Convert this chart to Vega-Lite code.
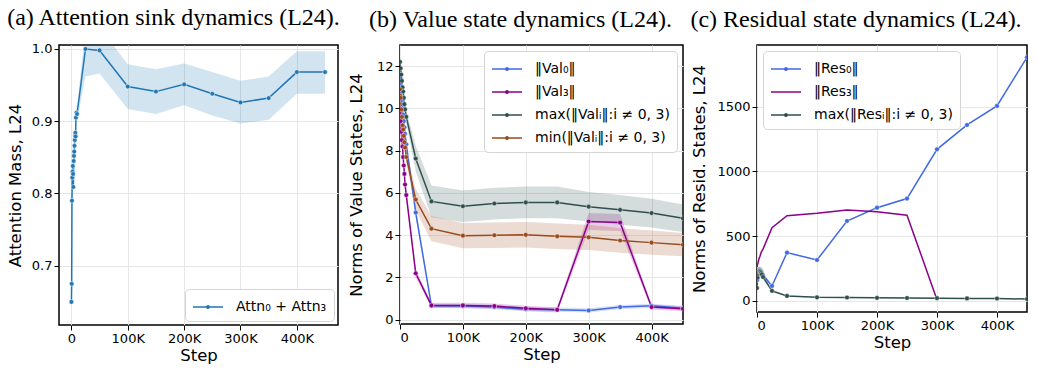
{
  "$schema": "https://vega.github.io/schema/vega-lite/v6.json",
  "background": "white",
  "padding": 5,
  "spacing": 5,
  "config": {
    "view": {"stroke": "black", "strokeWidth": 1.5},
    "axis": {
      "domain": false, "ticks": true, "tickColor": "black", "tickSize": 5, "tickWidth": 1,
      "labelFont": "DejaVu Sans", "labelFontSize": 13, "labelColor": "black", "labelPadding": 2,
      "titleFont": "DejaVu Sans", "titleFontSize": 16.5, "titleFontWeight": "normal", "titleColor": "black",
      "grid": true, "gridColor": "#e6e6e6", "gridWidth": 1
    },
    "title": {"font": "Liberation Serif", "fontSize": 24, "fontWeight": "normal", "color": "black", "anchor": "middle"},
    "legend": {
      "labelFont": "DejaVu Sans", "labelFontSize": 14, "labelColor": "black",
      "fillColor": "white", "strokeColor": "#d5d5d5", "cornerRadius": 4, "padding": 7,
      "symbolSize": 400,
      "symbolType": "M-1,0H2M0.38,0a0.12,0.12 0 1,0 0.24,0a0.12,0.12 0 1,0 -0.24,0",
      "symbolStrokeWidth": 1.5, "labelOffset": 22, "rowPadding": 5, "offset": 6
    }
  },
  "datasets": {
    "a": [
      {"step": 0, "v": 0.650, "lo": 0.640, "hi": 0.660, "s": "Attn₀ + Attn₃"},
      {"step": 500, "v": 0.675, "lo": 0.665, "hi": 0.685, "s": "Attn₀ + Attn₃"},
      {"step": 1000, "v": 0.790, "lo": 0.780, "hi": 0.800, "s": "Attn₀ + Attn₃"},
      {"step": 1500, "v": 0.822, "lo": 0.812, "hi": 0.832, "s": "Attn₀ + Attn₃"},
      {"step": 2000, "v": 0.830, "lo": 0.820, "hi": 0.840, "s": "Attn₀ + Attn₃"},
      {"step": 2500, "v": 0.838, "lo": 0.828, "hi": 0.848, "s": "Attn₀ + Attn₃"},
      {"step": 3000, "v": 0.827, "lo": 0.817, "hi": 0.837, "s": "Attn₀ + Attn₃"},
      {"step": 3500, "v": 0.809, "lo": 0.799, "hi": 0.819, "s": "Attn₀ + Attn₃"},
      {"step": 4000, "v": 0.845, "lo": 0.835, "hi": 0.855, "s": "Attn₀ + Attn₃"},
      {"step": 4500, "v": 0.852, "lo": 0.842, "hi": 0.862, "s": "Attn₀ + Attn₃"},
      {"step": 5000, "v": 0.858, "lo": 0.848, "hi": 0.868, "s": "Attn₀ + Attn₃"},
      {"step": 5500, "v": 0.866, "lo": 0.856, "hi": 0.876, "s": "Attn₀ + Attn₃"},
      {"step": 6000, "v": 0.874, "lo": 0.864, "hi": 0.884, "s": "Attn₀ + Attn₃"},
      {"step": 6500, "v": 0.880, "lo": 0.870, "hi": 0.890, "s": "Attn₀ + Attn₃"},
      {"step": 7000, "v": 0.884, "lo": 0.874, "hi": 0.894, "s": "Attn₀ + Attn₃"},
      {"step": 7500, "v": 0.879, "lo": 0.869, "hi": 0.889, "s": "Attn₀ + Attn₃"},
      {"step": 8000, "v": 0.905, "lo": 0.895, "hi": 0.915, "s": "Attn₀ + Attn₃"},
      {"step": 9000, "v": 0.912, "lo": 0.902, "hi": 0.922, "s": "Attn₀ + Attn₃"},
      {"step": 10000, "v": 0.910, "lo": 0.900, "hi": 0.920, "s": "Attn₀ + Attn₃"},
      {"step": 25000, "v": 1.000, "lo": 0.962, "hi": 1.030, "s": "Attn₀ + Attn₃"},
      {"step": 50000, "v": 0.998, "lo": 0.966, "hi": 1.030, "s": "Attn₀ + Attn₃"},
      {"step": 100000, "v": 0.948, "lo": 0.917, "hi": 0.979, "s": "Attn₀ + Attn₃"},
      {"step": 150000, "v": 0.941, "lo": 0.910, "hi": 0.972, "s": "Attn₀ + Attn₃"},
      {"step": 200000, "v": 0.951, "lo": 0.922, "hi": 0.980, "s": "Attn₀ + Attn₃"},
      {"step": 250000, "v": 0.938, "lo": 0.908, "hi": 0.968, "s": "Attn₀ + Attn₃"},
      {"step": 300000, "v": 0.926, "lo": 0.897, "hi": 0.956, "s": "Attn₀ + Attn₃"},
      {"step": 350000, "v": 0.932, "lo": 0.902, "hi": 0.962, "s": "Attn₀ + Attn₃"},
      {"step": 400000, "v": 0.968, "lo": 0.938, "hi": 0.997, "s": "Attn₀ + Attn₃"},
      {"step": 450000, "v": 0.968, "lo": 0.938, "hi": 0.997, "s": "Attn₀ + Attn₃"}
    ],
    "b": [
      {"step": 0, "v": 11.6, "lo": 11.45, "hi": 11.75, "s": "‖Val₀‖"},
      {"step": 1000, "v": 11.2, "lo": 11.05, "hi": 11.35, "s": "‖Val₀‖"},
      {"step": 2000, "v": 10.8, "lo": 10.65, "hi": 10.95, "s": "‖Val₀‖"},
      {"step": 3000, "v": 10.4, "lo": 10.25, "hi": 10.55, "s": "‖Val₀‖"},
      {"step": 4000, "v": 10.0, "lo": 9.85, "hi": 10.15, "s": "‖Val₀‖"},
      {"step": 5000, "v": 9.7, "lo": 9.55, "hi": 9.85, "s": "‖Val₀‖"},
      {"step": 6000, "v": 9.4, "lo": 9.25, "hi": 9.55, "s": "‖Val₀‖"},
      {"step": 7000, "v": 9.1, "lo": 8.95, "hi": 9.25, "s": "‖Val₀‖"},
      {"step": 8000, "v": 8.8, "lo": 8.65, "hi": 8.95, "s": "‖Val₀‖"},
      {"step": 10000, "v": 8.3, "lo": 8.1, "hi": 8.5, "s": "‖Val₀‖"},
      {"step": 25000, "v": 5.07, "lo": 4.82, "hi": 5.32, "s": "‖Val₀‖"},
      {"step": 50000, "v": 0.66, "lo": 0.56, "hi": 0.76, "s": "‖Val₀‖"},
      {"step": 100000, "v": 0.65, "lo": 0.55, "hi": 0.75, "s": "‖Val₀‖"},
      {"step": 150000, "v": 0.6, "lo": 0.5, "hi": 0.7, "s": "‖Val₀‖"},
      {"step": 200000, "v": 0.5, "lo": 0.4, "hi": 0.6, "s": "‖Val₀‖"},
      {"step": 250000, "v": 0.48, "lo": 0.38, "hi": 0.58, "s": "‖Val₀‖"},
      {"step": 300000, "v": 0.44, "lo": 0.34, "hi": 0.54, "s": "‖Val₀‖"},
      {"step": 350000, "v": 0.6, "lo": 0.5, "hi": 0.7, "s": "‖Val₀‖"},
      {"step": 400000, "v": 0.66, "lo": 0.56, "hi": 0.76, "s": "‖Val₀‖"},
      {"step": 450000, "v": 0.55, "lo": 0.45, "hi": 0.65, "s": "‖Val₀‖"},

      {"step": 0, "v": 10.0, "lo": 9.85, "hi": 10.15, "s": "‖Val₃‖"},
      {"step": 1000, "v": 9.4, "lo": 9.25, "hi": 9.55, "s": "‖Val₃‖"},
      {"step": 2000, "v": 8.9, "lo": 8.75, "hi": 9.05, "s": "‖Val₃‖"},
      {"step": 3000, "v": 8.5, "lo": 8.35, "hi": 8.65, "s": "‖Val₃‖"},
      {"step": 4000, "v": 8.2, "lo": 8.05, "hi": 8.35, "s": "‖Val₃‖"},
      {"step": 5000, "v": 7.7, "lo": 7.55, "hi": 7.85, "s": "‖Val₃‖"},
      {"step": 6000, "v": 7.3, "lo": 7.15, "hi": 7.45, "s": "‖Val₃‖"},
      {"step": 7000, "v": 6.9, "lo": 6.75, "hi": 7.05, "s": "‖Val₃‖"},
      {"step": 8000, "v": 6.4, "lo": 6.25, "hi": 6.55, "s": "‖Val₃‖"},
      {"step": 10000, "v": 5.9, "lo": 5.75, "hi": 6.05, "s": "‖Val₃‖"},
      {"step": 25000, "v": 2.2, "lo": 2.0, "hi": 2.4, "s": "‖Val₃‖"},
      {"step": 50000, "v": 0.68, "lo": 0.56, "hi": 0.8, "s": "‖Val₃‖"},
      {"step": 100000, "v": 0.68, "lo": 0.56, "hi": 0.8, "s": "‖Val₃‖"},
      {"step": 150000, "v": 0.65, "lo": 0.53, "hi": 0.77, "s": "‖Val₃‖"},
      {"step": 200000, "v": 0.54, "lo": 0.42, "hi": 0.66, "s": "‖Val₃‖"},
      {"step": 250000, "v": 0.47, "lo": 0.35, "hi": 0.59, "s": "‖Val₃‖"},
      {"step": 300000, "v": 4.65, "lo": 4.25, "hi": 5.05, "s": "‖Val₃‖"},
      {"step": 350000, "v": 4.6, "lo": 4.2, "hi": 5.0, "s": "‖Val₃‖"},
      {"step": 400000, "v": 0.6, "lo": 0.48, "hi": 0.72, "s": "‖Val₃‖"},
      {"step": 450000, "v": 0.52, "lo": 0.4, "hi": 0.64, "s": "‖Val₃‖"},

      {"step": 0, "v": 12.2, "lo": 12.05, "hi": 12.35, "s": "max(‖Valᵢ‖:i ≠ 0, 3)"},
      {"step": 1000, "v": 11.9, "lo": 11.75, "hi": 12.05, "s": "max(‖Valᵢ‖:i ≠ 0, 3)"},
      {"step": 2000, "v": 11.6, "lo": 11.45, "hi": 11.75, "s": "max(‖Valᵢ‖:i ≠ 0, 3)"},
      {"step": 3000, "v": 11.3, "lo": 11.15, "hi": 11.45, "s": "max(‖Valᵢ‖:i ≠ 0, 3)"},
      {"step": 4000, "v": 11.0, "lo": 10.85, "hi": 11.15, "s": "max(‖Valᵢ‖:i ≠ 0, 3)"},
      {"step": 5000, "v": 10.8, "lo": 10.6, "hi": 11.0, "s": "max(‖Valᵢ‖:i ≠ 0, 3)"},
      {"step": 6000, "v": 10.5, "lo": 10.3, "hi": 10.7, "s": "max(‖Valᵢ‖:i ≠ 0, 3)"},
      {"step": 7000, "v": 10.2, "lo": 10.0, "hi": 10.4, "s": "max(‖Valᵢ‖:i ≠ 0, 3)"},
      {"step": 8000, "v": 9.95, "lo": 9.75, "hi": 10.15, "s": "max(‖Valᵢ‖:i ≠ 0, 3)"},
      {"step": 10000, "v": 9.6, "lo": 9.3, "hi": 9.9, "s": "max(‖Valᵢ‖:i ≠ 0, 3)"},
      {"step": 25000, "v": 7.63, "lo": 7.03, "hi": 8.23, "s": "max(‖Valᵢ‖:i ≠ 0, 3)"},
      {"step": 50000, "v": 5.6, "lo": 4.85, "hi": 6.35, "s": "max(‖Valᵢ‖:i ≠ 0, 3)"},
      {"step": 100000, "v": 5.37, "lo": 4.62, "hi": 6.12, "s": "max(‖Valᵢ‖:i ≠ 0, 3)"},
      {"step": 150000, "v": 5.5, "lo": 4.75, "hi": 6.25, "s": "max(‖Valᵢ‖:i ≠ 0, 3)"},
      {"step": 200000, "v": 5.55, "lo": 4.8, "hi": 6.3, "s": "max(‖Valᵢ‖:i ≠ 0, 3)"},
      {"step": 250000, "v": 5.55, "lo": 4.8, "hi": 6.3, "s": "max(‖Valᵢ‖:i ≠ 0, 3)"},
      {"step": 300000, "v": 5.35, "lo": 4.65, "hi": 6.05, "s": "max(‖Valᵢ‖:i ≠ 0, 3)"},
      {"step": 350000, "v": 5.2, "lo": 4.5, "hi": 5.9, "s": "max(‖Valᵢ‖:i ≠ 0, 3)"},
      {"step": 400000, "v": 5.05, "lo": 4.37, "hi": 5.73, "s": "max(‖Valᵢ‖:i ≠ 0, 3)"},
      {"step": 450000, "v": 4.8, "lo": 4.15, "hi": 5.45, "s": "max(‖Valᵢ‖:i ≠ 0, 3)"},

      {"step": 0, "v": 10.9, "lo": 10.75, "hi": 11.05, "s": "min(‖Valᵢ‖:i ≠ 0, 3)"},
      {"step": 1000, "v": 10.5, "lo": 10.35, "hi": 10.65, "s": "min(‖Valᵢ‖:i ≠ 0, 3)"},
      {"step": 2000, "v": 9.95, "lo": 9.8, "hi": 10.1, "s": "min(‖Valᵢ‖:i ≠ 0, 3)"},
      {"step": 3000, "v": 9.6, "lo": 9.45, "hi": 9.75, "s": "min(‖Valᵢ‖:i ≠ 0, 3)"},
      {"step": 4000, "v": 9.2, "lo": 9.05, "hi": 9.35, "s": "min(‖Valᵢ‖:i ≠ 0, 3)"},
      {"step": 5000, "v": 9.0, "lo": 8.8, "hi": 9.2, "s": "min(‖Valᵢ‖:i ≠ 0, 3)"},
      {"step": 6000, "v": 8.7, "lo": 8.5, "hi": 8.9, "s": "min(‖Valᵢ‖:i ≠ 0, 3)"},
      {"step": 7000, "v": 8.4, "lo": 8.2, "hi": 8.6, "s": "min(‖Valᵢ‖:i ≠ 0, 3)"},
      {"step": 8000, "v": 8.15, "lo": 7.95, "hi": 8.35, "s": "min(‖Valᵢ‖:i ≠ 0, 3)"},
      {"step": 10000, "v": 7.7, "lo": 7.4, "hi": 8.0, "s": "min(‖Valᵢ‖:i ≠ 0, 3)"},
      {"step": 25000, "v": 5.69, "lo": 5.19, "hi": 6.19, "s": "min(‖Valᵢ‖:i ≠ 0, 3)"},
      {"step": 50000, "v": 4.31, "lo": 3.71, "hi": 4.91, "s": "min(‖Valᵢ‖:i ≠ 0, 3)"},
      {"step": 100000, "v": 3.98, "lo": 3.38, "hi": 4.58, "s": "min(‖Valᵢ‖:i ≠ 0, 3)"},
      {"step": 150000, "v": 4.0, "lo": 3.4, "hi": 4.6, "s": "min(‖Valᵢ‖:i ≠ 0, 3)"},
      {"step": 200000, "v": 4.02, "lo": 3.42, "hi": 4.62, "s": "min(‖Valᵢ‖:i ≠ 0, 3)"},
      {"step": 250000, "v": 3.95, "lo": 3.35, "hi": 4.55, "s": "min(‖Valᵢ‖:i ≠ 0, 3)"},
      {"step": 300000, "v": 3.9, "lo": 3.3, "hi": 4.5, "s": "min(‖Valᵢ‖:i ≠ 0, 3)"},
      {"step": 350000, "v": 3.75, "lo": 3.17, "hi": 4.33, "s": "min(‖Valᵢ‖:i ≠ 0, 3)"},
      {"step": 400000, "v": 3.65, "lo": 3.08, "hi": 4.22, "s": "min(‖Valᵢ‖:i ≠ 0, 3)"},
      {"step": 450000, "v": 3.55, "lo": 3.0, "hi": 4.1, "s": "min(‖Valᵢ‖:i ≠ 0, 3)"}
    ],
    "c": [
      {"step": 0, "v": 160, "lo": 140, "hi": 180, "s": "‖Res₀‖"},
      {"step": 1000, "v": 200, "lo": 180, "hi": 220, "s": "‖Res₀‖"},
      {"step": 2000, "v": 230, "lo": 210, "hi": 250, "s": "‖Res₀‖"},
      {"step": 3000, "v": 240, "lo": 220, "hi": 260, "s": "‖Res₀‖"},
      {"step": 4000, "v": 245, "lo": 225, "hi": 265, "s": "‖Res₀‖"},
      {"step": 5000, "v": 240, "lo": 220, "hi": 260, "s": "‖Res₀‖"},
      {"step": 6000, "v": 235, "lo": 215, "hi": 255, "s": "‖Res₀‖"},
      {"step": 7000, "v": 225, "lo": 205, "hi": 245, "s": "‖Res₀‖"},
      {"step": 8000, "v": 215, "lo": 195, "hi": 235, "s": "‖Res₀‖"},
      {"step": 10000, "v": 200, "lo": 180, "hi": 220, "s": "‖Res₀‖"},
      {"step": 25000, "v": 116, "lo": 108, "hi": 124, "s": "‖Res₀‖"},
      {"step": 50000, "v": 373, "lo": 368, "hi": 378, "s": "‖Res₀‖"},
      {"step": 100000, "v": 316, "lo": 311, "hi": 321, "s": "‖Res₀‖"},
      {"step": 150000, "v": 617, "lo": 612, "hi": 622, "s": "‖Res₀‖"},
      {"step": 200000, "v": 720, "lo": 715, "hi": 725, "s": "‖Res₀‖"},
      {"step": 250000, "v": 790, "lo": 785, "hi": 795, "s": "‖Res₀‖"},
      {"step": 300000, "v": 1170, "lo": 1165, "hi": 1175, "s": "‖Res₀‖"},
      {"step": 350000, "v": 1358, "lo": 1353, "hi": 1363, "s": "‖Res₀‖"},
      {"step": 400000, "v": 1505, "lo": 1500, "hi": 1510, "s": "‖Res₀‖"},
      {"step": 450000, "v": 1880, "lo": 1875, "hi": 1885, "s": "‖Res₀‖"},

      {"step": 0, "v": 260, "lo": 260, "hi": 260, "s": "‖Res₃‖"},
      {"step": 1000, "v": 285, "lo": 285, "hi": 285, "s": "‖Res₃‖"},
      {"step": 2000, "v": 300, "lo": 300, "hi": 300, "s": "‖Res₃‖"},
      {"step": 3000, "v": 320, "lo": 320, "hi": 320, "s": "‖Res₃‖"},
      {"step": 4000, "v": 335, "lo": 335, "hi": 335, "s": "‖Res₃‖"},
      {"step": 5000, "v": 345, "lo": 345, "hi": 345, "s": "‖Res₃‖"},
      {"step": 6000, "v": 360, "lo": 360, "hi": 360, "s": "‖Res₃‖"},
      {"step": 7000, "v": 375, "lo": 375, "hi": 375, "s": "‖Res₃‖"},
      {"step": 8000, "v": 385, "lo": 385, "hi": 385, "s": "‖Res₃‖"},
      {"step": 10000, "v": 400, "lo": 400, "hi": 400, "s": "‖Res₃‖"},
      {"step": 25000, "v": 566, "lo": 566, "hi": 566, "s": "‖Res₃‖"},
      {"step": 50000, "v": 658, "lo": 658, "hi": 658, "s": "‖Res₃‖"},
      {"step": 100000, "v": 677, "lo": 677, "hi": 677, "s": "‖Res₃‖"},
      {"step": 150000, "v": 702, "lo": 702, "hi": 702, "s": "‖Res₃‖"},
      {"step": 200000, "v": 688, "lo": 688, "hi": 688, "s": "‖Res₃‖"},
      {"step": 250000, "v": 662, "lo": 662, "hi": 662, "s": "‖Res₃‖"},
      {"step": 300000, "v": 10, "lo": 10, "hi": 10, "s": "‖Res₃‖"},

      {"step": 0, "v": 100, "lo": 80, "hi": 120, "s": "max(‖Resᵢ‖:i ≠ 0, 3)"},
      {"step": 1000, "v": 180, "lo": 160, "hi": 200, "s": "max(‖Resᵢ‖:i ≠ 0, 3)"},
      {"step": 2000, "v": 210, "lo": 190, "hi": 230, "s": "max(‖Resᵢ‖:i ≠ 0, 3)"},
      {"step": 3000, "v": 225, "lo": 205, "hi": 245, "s": "max(‖Resᵢ‖:i ≠ 0, 3)"},
      {"step": 4000, "v": 235, "lo": 215, "hi": 255, "s": "max(‖Resᵢ‖:i ≠ 0, 3)"},
      {"step": 5000, "v": 230, "lo": 210, "hi": 250, "s": "max(‖Resᵢ‖:i ≠ 0, 3)"},
      {"step": 6000, "v": 225, "lo": 205, "hi": 245, "s": "max(‖Resᵢ‖:i ≠ 0, 3)"},
      {"step": 7000, "v": 215, "lo": 195, "hi": 235, "s": "max(‖Resᵢ‖:i ≠ 0, 3)"},
      {"step": 8000, "v": 205, "lo": 185, "hi": 225, "s": "max(‖Resᵢ‖:i ≠ 0, 3)"},
      {"step": 10000, "v": 185, "lo": 165, "hi": 205, "s": "max(‖Resᵢ‖:i ≠ 0, 3)"},
      {"step": 25000, "v": 78, "lo": 70, "hi": 86, "s": "max(‖Resᵢ‖:i ≠ 0, 3)"},
      {"step": 50000, "v": 39, "lo": 35, "hi": 43, "s": "max(‖Resᵢ‖:i ≠ 0, 3)"},
      {"step": 100000, "v": 28, "lo": 25, "hi": 31, "s": "max(‖Resᵢ‖:i ≠ 0, 3)"},
      {"step": 150000, "v": 27, "lo": 24, "hi": 30, "s": "max(‖Resᵢ‖:i ≠ 0, 3)"},
      {"step": 200000, "v": 24, "lo": 21, "hi": 27, "s": "max(‖Resᵢ‖:i ≠ 0, 3)"},
      {"step": 250000, "v": 23, "lo": 20, "hi": 26, "s": "max(‖Resᵢ‖:i ≠ 0, 3)"},
      {"step": 300000, "v": 22, "lo": 19, "hi": 25, "s": "max(‖Resᵢ‖:i ≠ 0, 3)"},
      {"step": 350000, "v": 20, "lo": 17, "hi": 23, "s": "max(‖Resᵢ‖:i ≠ 0, 3)"},
      {"step": 400000, "v": 19, "lo": 16, "hi": 22, "s": "max(‖Resᵢ‖:i ≠ 0, 3)"},
      {"step": 450000, "v": 15, "lo": 12, "hi": 18, "s": "max(‖Resᵢ‖:i ≠ 0, 3)"}
    ]
  },
  "hconcat": [
    {
      "title": {"text": "(a) Attention sink dynamics (L24).", "offset": 13, "dx": -25},
      "width": 279, "height": 280,
      "data": {"name": "a"},
      "encoding": {
        "x": {"field": "step", "type": "quantitative", "title": "Step",
              "scale": {"domain": [-22000, 473000], "nice": false, "zero": false},
              "axis": {"values": [0, 100000, 200000, 300000, 400000], "labelExpr": "datum.value === 0 ? '0' : (datum.value / 1000) + 'K'", "titlePadding": 2}}
      },
      "layer": [
        {"mark": {"type": "area", "opacity": 0.2, "clip": true, "color": "#1f77b4"},
         "encoding": {
           "y": {"field": "lo", "type": "quantitative", "title": "Attention Mass, L24",
                 "scale": {"domain": [0.618, 1.0055], "nice": false, "zero": false},
                 "axis": {"values": [0.7, 0.8, 0.9, 1.0], "format": ".1f", "titlePadding": 8}},
           "y2": {"field": "hi"}
         }},
        {"mark": {"type": "line", "strokeWidth": 1.5, "clip": true},
         "encoding": {
           "y": {"field": "v", "type": "quantitative", "title": "Attention Mass, L24"},
           "color": {"field": "s", "type": "nominal", "scale": {"domain": ["Attn₀ + Attn₃"], "range": ["#1f77b4"]},
                     "legend": {"title": null, "orient": "bottom-right", "offset": 4}}
         }},
        {"mark": {"type": "point", "filled": true, "size": 22, "opacity": 1, "color": "#1f77b4", "stroke": "white", "strokeWidth": 0.5, "clip": true},
         "encoding": {
           "y": {"field": "v", "type": "quantitative", "title": "Attention Mass, L24"}
         }}
      ]
    },
    {
      "title": {"text": "(b) Value state dynamics (L24).", "offset": 13, "dx": -21},
      "width": 283, "height": 279,
      "data": {"name": "b"},
      "encoding": {
        "x": {"field": "step", "type": "quantitative", "title": "Step",
              "scale": {"domain": [0, 450000], "nice": false},
              "axis": {"values": [0, 100000, 200000, 300000, 400000], "labelExpr": "datum.value === 0 ? '0' : (datum.value / 1000) + 'K'", "titlePadding": 2}}
      },
      "layer": [
        {"mark": {"type": "area", "opacity": 0.2, "clip": true},
         "encoding": {
           "y": {"field": "lo", "type": "quantitative", "title": "Norms of Value States, L24",
                 "scale": {"domain": [-0.2, 13], "nice": false, "zero": false},
                 "axis": {"values": [0, 2, 4, 6, 8, 10, 12], "titlePadding": 12}},
           "y2": {"field": "hi"},
           "fill": {"field": "s", "type": "nominal",
                    "scale": {"domain": ["min(‖Valᵢ‖:i ≠ 0, 3)", "max(‖Valᵢ‖:i ≠ 0, 3)", "‖Val₃‖", "‖Val₀‖"], "range": ["#9a4a1c", "#2f4f4f", "#8b008b", "#4169e1"]},
                    "legend": null}
         }},
        {"mark": {"type": "line", "strokeWidth": 1.5, "clip": true},
         "encoding": {
           "y": {"field": "v", "type": "quantitative", "title": "Norms of Value States, L24"},
           "color": {"field": "s", "type": "nominal",
                     "scale": {"domain": ["‖Val₀‖", "‖Val₃‖", "max(‖Valᵢ‖:i ≠ 0, 3)", "min(‖Valᵢ‖:i ≠ 0, 3)"], "range": ["#4169e1", "#8b008b", "#2f4f4f", "#9a4a1c"]},
                     "legend": {"title": null, "orient": "top-right", "offset": 6}}
         }},
        {"mark": {"type": "point", "filled": true, "size": 22, "opacity": 1, "stroke": "white", "strokeWidth": 0.4, "clip": true},
         "encoding": {
           "y": {"field": "v", "type": "quantitative", "title": "Norms of Value States, L24"},
           "fill": {"field": "s", "type": "nominal",
                    "scale": {"domain": ["min(‖Valᵢ‖:i ≠ 0, 3)", "max(‖Valᵢ‖:i ≠ 0, 3)", "‖Val₃‖", "‖Val₀‖"], "range": ["#9a4a1c", "#2f4f4f", "#8b008b", "#4169e1"]},
                    "legend": null}
         }}
      ]
    },
    {
      "title": {"text": "(c) Residual state dynamics (L24).", "offset": 13, "dx": -36},
      "width": 270, "height": 267,
      "data": {"name": "c"},
      "encoding": {
        "x": {"field": "step", "type": "quantitative", "title": "Step",
              "scale": {"domain": [0, 450000], "nice": false},
              "axis": {"values": [0, 100000, 200000, 300000, 400000], "labelExpr": "datum.value === 0 ? '0' : (datum.value / 1000) + 'K'", "titlePadding": 2}}
      },
      "layer": [
        {"mark": {"type": "area", "opacity": 0.2, "clip": true},
         "encoding": {
           "y": {"field": "lo", "type": "quantitative", "title": "Norms of Resid. States, L24",
                 "scale": {"domain": [-85, 1975], "nice": false, "zero": false},
                 "axis": {"values": [0, 250, 500, 750, 1000, 1250, 1500, 1750], "format": "d", "titlePadding": 9}},
           "y2": {"field": "hi"},
           "fill": {"field": "s", "type": "nominal",
                    "scale": {"domain": ["max(‖Resᵢ‖:i ≠ 0, 3)", "‖Res₃‖", "‖Res₀‖"], "range": ["#2f4f4f", "#8b008b", "#4169e1"]},
                    "legend": null}
         }},
        {"mark": {"type": "line", "strokeWidth": 1.5, "clip": true},
         "encoding": {
           "y": {"field": "v", "type": "quantitative", "title": "Norms of Resid. States, L24"},
           "color": {"field": "s", "type": "nominal",
                     "scale": {"domain": ["‖Res₀‖", "‖Res₃‖", "max(‖Resᵢ‖:i ≠ 0, 3)"], "range": ["#4169e1", "#8b008b", "#2f4f4f"]},
                     "legend": {"title": null, "orient": "top-left", "offset": 6,
                                "encode": {"symbols": {"update": {"shape": {"signal": "datum.index === 1 ? 'M-1,0H2' : 'M-1,0H2M0.38,0a0.12,0.12 0 1,0 0.24,0a0.12,0.12 0 1,0 -0.24,0'"}}}}}}
         }},
        {"transform": [{"filter": "datum.s !== '‖Res₃‖'"}],
         "mark": {"type": "point", "filled": true, "size": 22, "opacity": 1, "stroke": "white", "strokeWidth": 0.4, "clip": true},
         "encoding": {
           "y": {"field": "v", "type": "quantitative", "title": "Norms of Resid. States, L24"},
           "fill": {"field": "s", "type": "nominal",
                    "scale": {"domain": ["max(‖Resᵢ‖:i ≠ 0, 3)", "‖Res₃‖", "‖Res₀‖"], "range": ["#2f4f4f", "#8b008b", "#4169e1"]},
                    "legend": null}
         }}
      ]
    }
  ],
  "resolve": {"scale": {"color": "independent", "fill": "independent", "x": "independent", "y": "independent"}, "legend": {"color": "independent"}}
}
